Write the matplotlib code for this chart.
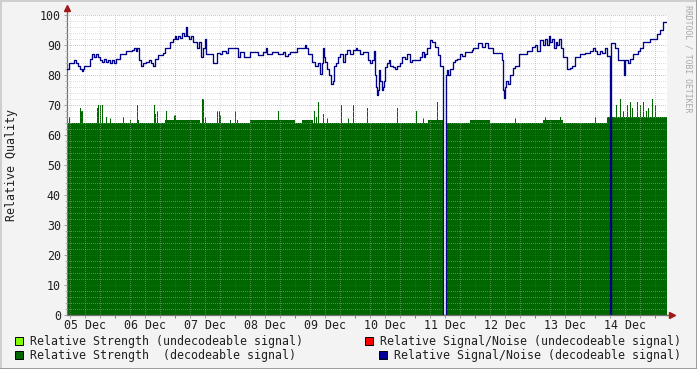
import numpy as np
import matplotlib
matplotlib.use("Agg")
import matplotlib.pyplot as plt
from matplotlib.patches import Rectangle
from matplotlib.lines import Line2D

# one RRD row = 24 minutes, graph starts 05 Dec 04:48
T0_HOURS = 4.8
ROW_HOURS = 0.4
N_ROWS = 600

day_labels = ["05 Dec", "06 Dec", "07 Dec", "08 Dec", "09 Dec",
              "10 Dec", "11 Dec", "12 Dec", "13 Dec", "14 Dec"]

# Relative Signal/Noise (decodeable) - step changes (row index, value)
snr_idx = [0, 2, 7, 9, 11, 13, 15, 16, 17, 23, 25, 27, 29, 31, 33, 35, 37, 39, 41,
           43, 45, 47, 49, 53, 59, 65, 67, 69, 70, 72, 74, 76, 79, 82, 84, 86, 88,
           91, 96, 98, 103, 106, 108, 109, 111, 113, 115, 117, 119, 120, 122, 124,
           126, 130, 132, 134, 136, 138, 139, 146, 150, 153, 155, 159, 161, 171,
           173, 177, 183, 191, 196, 199, 200, 205, 211, 216, 218, 221, 223, 230,
           238, 239, 241, 245, 248, 251, 253, 255, 256, 257, 258, 260, 262, 264,
           266, 267, 269, 271, 273, 276, 278, 280, 283, 286, 289, 290, 293, 296,
           301, 303, 305, 307, 308, 309, 310, 311, 312, 313, 315, 316, 317, 318,
           320, 322, 323, 326, 328, 330, 333, 335, 338, 340, 343, 345, 353, 355,
           357, 358, 360, 363, 365, 368, 371, 373, 376, 379, 380, 381, 383, 386,
           388, 390, 393, 395, 398, 405, 406, 411, 415, 418, 421, 426, 435, 436,
           437, 438, 439, 441, 443, 446, 448, 452, 460, 465, 468, 470, 473, 476,
           478, 480, 482, 483, 485, 487, 489, 490, 492, 494, 496, 500, 503, 505,
           508, 513, 518, 523, 526, 528, 530, 533, 535, 538, 540, 543, 544, 548,
           551, 557, 558, 561, 563, 566, 571, 573, 576, 583, 590, 593, 596, 600]
snr_val = [82, 84, 85, 84, 83, 82, 81.5, 82, 83, 85.5, 87, 86, 87, 86, 85, 84.5,
           85.5, 84.5, 85, 84, 85, 84, 85.5, 87, 88, 88.5, 89, 88, 89, 85, 83, 84,
           84.5, 85, 84, 83, 85.5, 86.7, 87.5, 89, 91, 92, 93, 92, 93, 92.5, 94,
           93, 96, 93, 92, 93, 91, 89, 91, 86, 89, 92, 87, 84, 87.5, 87, 88, 87.5,
           89, 86, 87.8, 86, 87.8, 86.7, 87.8, 89, 87, 87.8, 87, 87.8, 86.5, 87,
           87.8, 89, 90, 89, 87, 84.5, 83, 84, 80.5, 84, 89, 86, 84.5, 82, 80, 77,
           78, 83, 84, 86, 87, 84.5, 87, 88.3, 87, 88.3, 89, 88.3, 87, 87.8, 85,
           84, 85, 88, 80, 76, 73.5, 75, 81.7, 78, 75, 76, 78, 82.8, 84, 85, 83,
           82.8, 82, 83, 84, 86, 85.5, 87, 84.5, 85, 86, 87.8, 86, 87, 89, 91.7,
           91, 89.4, 86.7, 83, 0, 80, 81.7, 80, 82, 84.4, 85, 85.5, 87, 86.5, 87.8,
           88.5, 89, 90.8, 89.4, 90.8, 89, 87.5, 85, 75, 72.5, 76, 78, 77, 80, 82.5,
           83, 87, 88, 89.4, 90, 88, 91.7, 90, 92, 90, 93, 91, 92, 89, 91, 90, 92,
           89, 86, 82, 82.2, 83, 86, 87, 87.5, 88, 89, 88, 87, 88, 87.5, 89, 86.5,
           0, 90.8, 89, 85, 80, 85, 84, 85.5, 87, 88, 89, 91, 92, 93.7, 95, 97.8,
           97.8]

# Relative Strength (decodeable) - baseline levels and single-row spikes
strength_base_idx = [0, 98, 133, 183, 228, 235, 246, 361, 376, 379, 403, 423,
                     476, 496, 540]
strength_base_val = [64, 65, 64, 65, 64, 65, 64, 65, 0, 64, 65, 64, 65, 64, 66]
spike_idx = [2, 13, 14, 15, 30, 31, 33, 35, 39, 43, 56, 63, 70, 71, 87, 88, 90,
             99, 107, 108, 135, 136, 138, 150, 152, 153, 163, 168, 170, 211, 247,
             249, 251, 256, 260, 274, 281, 286, 300, 330, 349, 356, 370, 448, 478,
             493, 528, 549, 553, 556, 560, 563, 565, 570, 573, 576, 579, 581, 585,
             588]
spike_val = [66, 69, 68, 68, 69, 70, 70, 70, 66, 65.5, 66, 65, 70, 65, 70, 67,
             68, 68, 66.5, 66.5, 72, 72, 66, 68, 68, 66.5, 65, 68, 65, 68, 68, 66,
             71, 67, 65.5, 70, 65.5, 70, 69, 69, 68, 65.5, 71, 65.5, 66, 66, 66,
             70, 72, 68, 70, 71, 69, 71, 70, 71, 68, 69, 72, 70]

FONT = "DejaVu Sans Mono"
FS = 8.37
W, H = 697, 369

fig = plt.figure(figsize=(W / 100, H / 100), dpi=100, facecolor="#f3f3f3")
ax = fig.add_axes([67 / W, 54 / H, 600 / W, 300 / H])
ax.set_facecolor("white")

edges = T0_HOURS + np.arange(N_ROWS + 1) * ROW_HOURS

strength = np.zeros(N_ROWS)
bounds = strength_base_idx + [N_ROWS]
for s, e, v in zip(bounds[:-1], bounds[1:], strength_base_val):
    strength[s:e] = v
for i, v in zip(spike_idx, spike_val):
    strength[i] = v

ax.stairs(strength, edges, fill=True, color="#006600", lw=0, zorder=1)

t_snr = T0_HOURS + np.array(snr_idx) * ROW_HOURS
ax.step(t_snr, snr_val, where="post", color="#000088", lw=0.95, zorder=3)

ax.set_xlim(edges[0], edges[-1])
ax.set_ylim(0, 100)

# grid: minor every 6h / 2 units, major every day / 10 units
ax.set_xticks(np.arange(24, 245, 24))
ax.set_xticks([h for h in np.arange(6, 245, 6) if h % 24], minor=True)
ax.set_yticks(np.arange(0, 101, 10))
ax.set_yticks([v for v in range(2, 100, 2) if v % 10], minor=True)
ax.grid(which="minor", color="#b8b8b8", alpha=0.45, lw=0.72, ls=(0, (1, 1.5)),
        antialiased=False)
ax.grid(which="major", color="#d83838", alpha=0.35, lw=0.72, ls=(0, (1, 1.5)),
        antialiased=False)
ax.set_axisbelow(False)

ax.set_xticklabels([])
ax.tick_params(axis="x", which="major", direction="out", length=2.2,
               width=0.72, color="#d06060")
ax.tick_params(axis="x", which="minor", direction="out", length=2.2,
               width=0.72, color="#a0a0a0")
ax.tick_params(axis="y", which="major", direction="out", length=2.2,
               width=0.72, color="#a0a0a0", pad=2.2, labelsize=FS)
ax.tick_params(axis="y", which="minor", direction="out", length=1.5,
               width=0.72, color="#b0b0b0")
for lbl in ax.get_yticklabels():
    lbl.set_fontfamily(FONT)
    lbl.set_color("#202020")

for k, lab in enumerate(day_labels):
    ax.text(12 + 24 * k, -4 / 300, lab, transform=ax.get_xaxis_transform(),
            ha="center", va="top", fontsize=FS, family=FONT, color="#202020")

for side in ("top", "right"):
    ax.spines[side].set_visible(False)
for side in ("left", "bottom"):
    ax.spines[side].set_color("#707070")
    ax.spines[side].set_linewidth(0.9)

# axis arrows
ax.plot([0, 0], [1.0, 1.02], transform=ax.transAxes, color="#707070",
        lw=0.9, clip_on=False)
ax.plot([0], [1.025], marker="^", ms=4.5, color="#a01818",
        transform=ax.transAxes, clip_on=False)
ax.plot([1.0, 1.004], [0, 0], transform=ax.transAxes, color="#707070",
        lw=0.9, clip_on=False)
ax.plot([1.009], [0], marker=">", ms=4.5, color="#a01818",
        transform=ax.transAxes, clip_on=False)

fig.text(12 / W, 1 - 165 / H, "Relative Quality", rotation=90, ha="center",
         va="center", fontsize=FS, family=FONT, color="#202020")
fig.text(688 / W, 1 - 5 / H, "RRDTOOL / TOBI OETIKER", rotation=270,
         ha="center", va="top", fontsize=5.9, family=FONT, color="#a8a8a8")

# legend
legend_items = [
    (15, 341, "#80ff00", 30, "Relative Strength (undecodeable signal)"),
    (365, 341, "#ff0000", 380, "Relative Signal/Noise (undecodeable signal)"),
    (15, 355, "#006600", 30, "Relative Strength  (decodeable signal)"),
    (379, 355, "#000099", 394, "Relative Signal/Noise (decodeable signal)"),
]
for bx, by, col, tx, text in legend_items:
    fig.patches.append(Rectangle((bx / W, 1 - (by + 4) / H), 8 / W, 8 / H,
                                 transform=fig.transFigure, facecolor=col,
                                 edgecolor="black", lw=0.7))
    fig.text(tx / W, 1 - by / H, text, ha="left", va="center", fontsize=FS,
             family=FONT, color="#202020")

# 3d-ish frame
fig.add_artist(Line2D([0, 1], [1 - 0.5 / H] * 2, color="#cfcfcf", lw=1.4))
fig.add_artist(Line2D([0.5 / W] * 2, [0, 1], color="#cfcfcf", lw=1.4))
fig.add_artist(Line2D([0, 1], [0.5 / H] * 2, color="#9b9b9b", lw=1.4))
fig.add_artist(Line2D([1 - 0.5 / W] * 2, [0, 1], color="#9b9b9b", lw=1.4))

fig.savefig("out.png", dpi=100, facecolor=fig.get_facecolor())
